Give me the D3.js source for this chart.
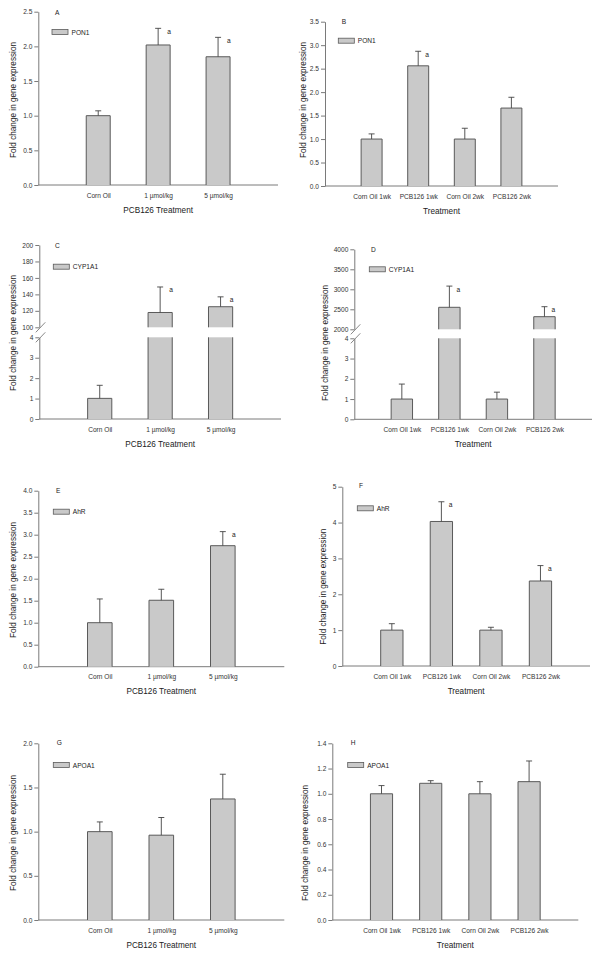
<!DOCTYPE html>
<html>
<head>
<meta charset="utf-8">
<script src="https://cdn.jsdelivr.net/npm/d3@7"></script>
<style>
  body { margin: 0; background: #fff; }
  svg { display: block; }
  text { font-family: "Liberation Sans", Arial, sans-serif; fill: #222; }
</style>
</head>
<body>
<svg id="fig" width="601" height="956"></svg>
<script>

// CATEGORIES //
var doseGroups = ["Corn Oil", "1 µmol/kg", "5 µmol/kg"];
var timeGroups = ["Corn Oil 1wk", "PCB126 1wk", "Corn Oil 2wk", "PCB126 2wk"];

// VALUES (mean, SE, significance mark) //
var pon1Dose = [1.00, 2.02, 1.85], pon1DoseErr = [0.07, 0.24, 0.28], pon1DoseSig = ["", "a", "a"];
var pon1Time = [1.00, 2.56, 1.00, 1.66], pon1TimeErr = [0.11, 0.31, 0.23, 0.23], pon1TimeSig = ["", "a", "", ""];
var cypDose = [1.01, 118, 125], cypDoseErr = [0.64, 31, 12], cypDoseSig = ["", "a", "a"];
var cypTime = [1.00, 2550, 1.00, 2315], cypTimeErr = [0.74, 530, 0.34, 250], cypTimeSig = ["", "a", "", "a"];
var ahrDose = [1.00, 1.51, 2.75], ahrDoseErr = [0.54, 0.25, 0.32], ahrDoseSig = ["", "", "a"];
var ahrTime = [1.00, 4.03, 1.00, 2.37], ahrTimeErr = [0.18, 0.55, 0.08, 0.43], ahrTimeSig = ["", "a", "", "a"];
var apoDose = [1.00, 0.96, 1.37], apoDoseErr = [0.11, 0.20, 0.28], apoDoseSig = ["", "", ""];
var apoTime = [1.00, 1.083, 1.00, 1.096], apoTimeErr = [0.065, 0.021, 0.096, 0.164], apoTimeSig = ["", "", "", ""];

// TICKS //
var ticksA = [0, 0.5, 1, 1.5, 2, 2.5];
var ticksB = [0, 0.5, 1, 1.5, 2, 2.5, 3, 3.5];
var ticksLow = [0, 1, 2, 3, 4];
var ticksCHigh = [100, 120, 140, 160, 180, 200];
var ticksDHigh = [2000, 2500, 3000, 3500, 4000];
var ticksE = [0, 0.5, 1, 1.5, 2, 2.5, 3, 3.5, 4];
var ticksF = [0, 1, 2, 3, 4, 5];
var ticksG = [0, 0.5, 1, 1.5, 2];
var ticksH = [0, 0.2, 0.4, 0.6, 0.8, 1, 1.2, 1.4];

var yTitleText = "Fold change in gene expression";

var svg = d3.select("#fig");

// layout of each panel (pixels)
var panels = [
  { id: "A", gene: "PON1", cats: doseGroups, vals: pon1Dose, err: pon1DoseErr, sig: pon1DoseSig, xTitle: "PCB126 Treatment",
    x0: 38.3, x1: 278, base: 185, segs: [{ d: [0, 2.5], r: [185, 11.7], t: ticksA, f: ".1f" }],
    letter: [55, 12], legend: [52, 32], yTitle: [13, 100], barW: 0.4 },
  { id: "B", gene: "PON1", cats: timeGroups, vals: pon1Time, err: pon1TimeErr, sig: pon1TimeSig, xTitle: "Treatment",
    x0: 325, x1: 558, base: 186, segs: [{ d: [0, 3.5], r: [186, 21.7], t: ticksB, f: ".1f" }],
    letter: [341.7, 21], legend: [338.3, 40.7], yTitle: [303, 100], barW: 0.45 },
  { id: "C", gene: "CYP1A1", cats: doseGroups, vals: cypDose, err: cypDoseErr, sig: cypDoseSig, xTitle: "PCB126 Treatment",
    x0: 39.3, x1: 281, base: 419, segs: [{ d: [0, 4], r: [419, 337.3], t: ticksLow, f: "d" }, { d: [100, 200], r: [327.3, 245], t: ticksCHigh, f: "d" }],
    letter: [55, 245], legend: [53.3, 266.7], yTitle: [13, 333], barW: 0.4 },
  { id: "D", gene: "CYP1A1", cats: timeGroups, vals: cypTime, err: cypTimeErr, sig: cypTimeSig, xTitle: "Treatment",
    x0: 354.3, x1: 592, base: 419.3, segs: [{ d: [0, 4], r: [419.3, 338.3], t: ticksLow, f: "d" }, { d: [2000, 4000], r: [329.3, 249.3], t: ticksDHigh, f: "d" }],
    letter: [371, 249], legend: [369.3, 269.3], yTitle: [325, 343], barW: 0.45 },
  { id: "E", gene: "AhR", cats: doseGroups, vals: ahrDose, err: ahrDoseErr, sig: ahrDoseSig, xTitle: "PCB126 Treatment",
    x0: 38.3, x1: 284.3, base: 666.7, segs: [{ d: [0, 4], r: [666.7, 490.7], t: ticksE, f: ".1f" }],
    letter: [56, 490], legend: [53.3, 511.7], yTitle: [13, 580], barW: 0.4 },
  { id: "F", gene: "AhR", cats: timeGroups, vals: ahrTime, err: ahrTimeErr, sig: ahrTimeSig, xTitle: "Treatment",
    x0: 342.3, x1: 590, base: 666, segs: [{ d: [0, 5], r: [666, 486.7], t: ticksF, f: "d" }],
    letter: [359, 485], legend: [357.3, 508.3], yTitle: [323, 586.7], barW: 0.45 },
  { id: "G", gene: "APOA1", cats: doseGroups, vals: apoDose, err: apoDoseErr, sig: apoDoseSig, xTitle: "PCB126 Treatment",
    x0: 38.3, x1: 284.3, base: 920, segs: [{ d: [0, 2], r: [920, 743.3], t: ticksG, f: ".1f" }],
    letter: [56.7, 742.7], legend: [53.3, 765], yTitle: [13, 833], barW: 0.4 },
  { id: "H", gene: "APOA1", cats: timeGroups, vals: apoTime, err: apoTimeErr, sig: apoTimeSig, xTitle: "Treatment",
    x0: 332.3, x1: 578.3, base: 920, segs: [{ d: [0, 1.4], r: [920, 743.3], t: ticksH, f: ".1f" }],
    letter: [350.7, 742.7], legend: [347.7, 765], yTitle: [305, 843], barW: 0.45 }
];

var barFill = "#c9c9c9", barStroke = "#5a5a5a", axisColor = "#7a7a7a";

panels.forEach(function(p) {
  var g = svg.append("g").attr("id", "panel" + p.id);

  // x positions: empty slot at each end
  var keys = ["_l"].concat(p.cats, ["_r"]);
  var x = d3.scalePoint().domain(keys).range([p.x0, p.x1]);
  var bw = x.step() * p.barW;

  p.segs.forEach(function(s) {
    s.scale = d3.scaleLinear().domain(s.d).range(s.r);
  });

  // y axis, one piece per segment
  p.segs.forEach(function(s) {
    var ax = g.append("g")
      .attr("transform", `translate(${p.x0}, 0)`)
      .call(d3.axisLeft(s.scale).tickValues(s.t).tickSize(4).tickSizeOuter(0).tickPadding(2).tickFormat(d3.format(s.f)));
    ax.select(".domain").attr("stroke", axisColor);
    ax.selectAll(".tick line").attr("stroke", axisColor);
    ax.selectAll(".tick text").style("font-size", "6.6px").style("fill", "#333");
  });

  // break marks
  if (p.segs.length > 1) {
    [p.segs[0].r[1], p.segs[1].r[0]].forEach(function(yb) {
      g.append("line")
        .attr("x1", p.x0 - 3.5).attr("y1", yb + 5)
        .attr("x2", p.x0 + 6).attr("y2", yb - 5)
        .attr("stroke", axisColor).attr("stroke-width", 0.9);
    });
  }

  // x axis
  var xa = g.append("g")
    .attr("transform", `translate(0, ${p.base})`)
    .call(d3.axisBottom(x).tickSize(0).tickPadding(8).tickFormat(function(d) { return d.charAt(0) === "_" ? "" : d; }));
  xa.select(".domain").attr("stroke", axisColor).attr("d", `M${p.x0},0H${p.x1}`);
  xa.selectAll(".tick text").style("font-size", "6.6px").style("fill", "#333");

  // bars
  p.cats.forEach(function(c, i) {
    var v = p.vals[i], cx = x(c);
    p.segs.forEach(function(s) {
      if (v <= s.d[0]) return;
      var top = Math.min(v, s.d[1]);
      var yBot = s.scale(s.d[0]), yTop = s.scale(top);
      g.append("rect")
        .attr("x", cx - bw / 2).attr("y", yTop)
        .attr("width", bw).attr("height", yBot - yTop)
        .attr("fill", barFill);
      var closed = v <= s.d[1];
      var d = `M${cx - bw / 2},${yBot}V${yTop}` + (closed ? `H${cx + bw / 2}` : `M${cx + bw / 2},${yTop}`) + `V${yBot}`;
      g.append("path").attr("d", d).attr("fill", "none").attr("stroke", barStroke).attr("stroke-width", 1);
    });

    // error bar
    var e = v + p.err[i];
    var seg = p.segs.filter(function(s) { return v >= s.d[0] && v <= s.d[1]; })[0];
    var y1 = seg.scale(v), y2 = seg.scale(e);
    g.append("path")
      .attr("d", `M${cx},${y1}V${y2}M${cx - 3},${y2}H${cx + 3}`)
      .attr("stroke", "#444").attr("stroke-width", 0.9).attr("fill", "none");

    if (p.sig[i]) {
      g.append("text")
        .attr("x", cx + x.step() * 0.15).attr("y", y2 + 3)
        .attr("dominant-baseline", "central")
        .style("font-size", "6.6px")
        .text(p.sig[i]);
    }
  });

  // panel letter
  g.append("text")
    .attr("x", p.letter[0]).attr("y", p.letter[1])
    .attr("dominant-baseline", "central")
    .style("font-size", "6.6px")
    .text(p.id);

  // legend
  g.append("rect")
    .attr("x", p.legend[0]).attr("y", p.legend[1] - 2.5)
    .attr("width", 16).attr("height", 5)
    .attr("fill", barFill).attr("stroke", barStroke).attr("stroke-width", 0.8);
  g.append("text")
    .attr("x", p.legend[0] + 19.5).attr("y", p.legend[1])
    .attr("dominant-baseline", "central")
    .style("font-size", "6.6px")
    .text(p.gene);

  // axis titles
  g.append("text")
    .attr("x", (p.x0 + p.x1) / 2).attr("y", p.base + 25)
    .attr("text-anchor", "middle")
    .attr("dominant-baseline", "central")
    .style("font-size", "8.2px")
    .text(p.xTitle);

  g.append("text")
    .attr("transform", `translate(${p.yTitle[0]}, ${p.yTitle[1]}) rotate(-90)`)
    .attr("text-anchor", "middle")
    .attr("dominant-baseline", "central")
    .style("font-size", "8.2px")
    .text(yTitleText);
});

</script>
</body>
</html>
